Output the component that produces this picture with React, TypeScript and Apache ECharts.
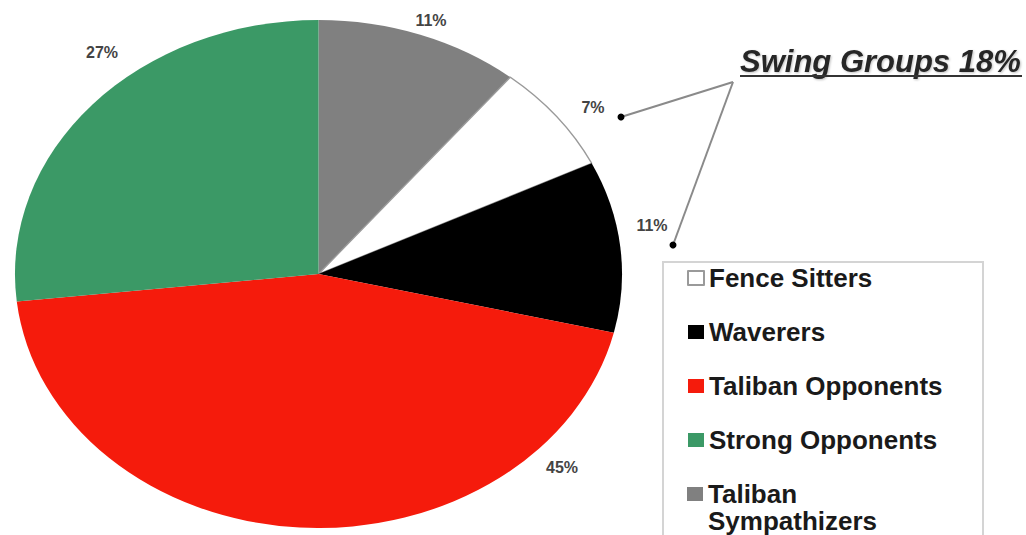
import React, { useEffect, useRef } from 'react';
import * as echarts from 'echarts';

// ---- data (clockwise from 12 o'clock) ----
const categories = ['Taliban Sympathizers', 'Fence Sitters', 'Waverers', 'Taliban Opponents', 'Strong Opponents'];
const values = [11, 7, 11, 45, 27];
const legendMain = ['Fence Sitters', 'Waverers', 'Taliban Opponents', 'Strong Opponents'];
const legendLast = ['Taliban Sympathizers'];
const swingGroups = ['Fence Sitters', 'Waverers'];

// ---- styles / layout ----
const colors = ['#808080', '#ffffff', '#000000', '#f51b0c', '#3b9966'];
const labelPos = [[431, 20], [593, 107], [652, 225], [562, 467], [102, 52]];
const FONT = 'Liberation Sans, Arial, Helvetica, sans-serif';
const PIE_CX = 318.5;
const PIE_CY = 274;
const PIE_RY = 254;
const SX = 1.195; // horizontal stretch of the pie (ellipse)

function pieData() {
  return categories.map((n, i) => ({
    name: n,
    value: values[i],
    itemStyle: {
      color: colors[i],
      borderColor: i === 1 ? '#9a9a9a' : colors[i],
      borderWidth: i === 1 ? 1.2 : 0,
    },
  }));
}

export default function App() {
  const pieRef = useRef<HTMLDivElement>(null);
  const topRef = useRef<HTMLDivElement>(null);

  useEffect(() => {
    const pie = echarts.init(pieRef.current!, null, { renderer: 'svg' });
    pie.setOption({
      animation: false,
      series: [
        {
          type: 'pie',
          center: [PIE_CX / SX, PIE_CY],
          radius: PIE_RY,
          startAngle: 90,
          clockwise: true,
          silent: true,
          label: { show: false },
          labelLine: { show: false },
          data: pieData(),
        },
      ],
    });

    const swingTotal = swingGroups.reduce((s, n) => s + values[categories.indexOf(n)], 0);

    const top = echarts.init(topRef.current!, null, { renderer: 'svg' });
    const legendText = {
      fontFamily: FONT,
      fontWeight: 'bold',
      fontSize: 26,
      lineHeight: 29,
      color: '#1a1a1a',
    };
    top.setOption({
      animation: false,
      backgroundColor: 'transparent',
      legend: [
        {
          orient: 'vertical',
          left: 687,
          top: 263.5,
          padding: 0,
          itemWidth: 16,
          itemHeight: 14,
          itemGap: 25,
          icon: 'rect',
          selectedMode: false,
          textStyle: legendText,
          data: legendMain,
        },
        {
          orient: 'vertical',
          left: 687,
          top: 453.5,
          padding: 0,
          itemWidth: 16,
          itemHeight: 14,
          icon: 'rect',
          selectedMode: false,
          textStyle: {
            ...legendText,
            lineHeight: 27,
            rich: {
              s: { fontSize: 10, lineHeight: 27 },
              t: { ...legendText, lineHeight: 27 },
            },
          },
          formatter: (name: string) => `{s| }\n{t|${name.split(' ').join('}\n{t|')}}`,
          data: legendLast,
        },
      ],
      series: [
        {
          type: 'pie',
          center: [PIE_CX, PIE_CY],
          radius: 0,
          startAngle: 90,
          silent: true,
          label: {
            show: true,
            formatter: '{c}%',
            fontFamily: FONT,
            fontWeight: 'bold',
            fontSize: 16,
            color: '#444',
          },
          labelLine: { show: false },
          labelLayout: (p: any) => ({
            x: labelPos[p.dataIndex][0],
            y: labelPos[p.dataIndex][1],
            align: 'center',
            verticalAlign: 'middle',
          }),
          data: pieData(),
        },
      ],
      graphic: [
        {
          type: 'rect',
          shape: { x: 663, y: 262, width: 320, height: 300 },
          style: { fill: 'none', stroke: '#d4d4d4', lineWidth: 2 },
          z: 1,
        },
        {
          type: 'line',
          shape: { x1: 733, y1: 82, x2: 621, y2: 117 },
          style: { stroke: '#8a8a8a', lineWidth: 2 },
        },
        {
          type: 'line',
          shape: { x1: 733, y1: 82, x2: 673, y2: 245 },
          style: { stroke: '#8a8a8a', lineWidth: 2 },
        },
        { type: 'circle', shape: { cx: 621, cy: 117, r: 3.5 }, style: { fill: '#000' } },
        { type: 'circle', shape: { cx: 673, cy: 245, r: 3.5 }, style: { fill: '#000' } },
        {
          type: 'text',
          x: 740,
          y: 61,
          style: {
            text: `Swing Groups ${swingTotal}%`,
            font: `italic bold 31px ${FONT}`,
            fill: '#262626',
            verticalAlign: 'middle',
            textShadowColor: 'rgba(0,0,0,0.25)',
            textShadowBlur: 2,
            textShadowOffsetX: 1,
            textShadowOffsetY: 1,
          },
        },
        {
          type: 'line',
          shape: { x1: 740, y1: 76, x2: 1022, y2: 76 },
          style: { stroke: '#333', lineWidth: 2 },
        },
      ],
    });

    return () => {
      pie.dispose();
      top.dispose();
    };
  }, []);

  return (
    <div
      style={{
        position: 'absolute',
        left: 0,
        top: 0,
        width: 1026,
        height: 535,
        overflow: 'hidden',
        background: '#fff',
      }}
    >
      <div
        ref={pieRef}
        style={{
          position: 'absolute',
          left: 0,
          top: 0,
          width: Math.ceil(1026 / SX),
          height: 535,
          transform: `scaleX(${SX})`,
          transformOrigin: '0 0',
        }}
      />
      <div
        ref={topRef}
        style={{ position: 'absolute', left: 0, top: 0, width: 1026, height: 535 }}
      />
    </div>
  );
}
